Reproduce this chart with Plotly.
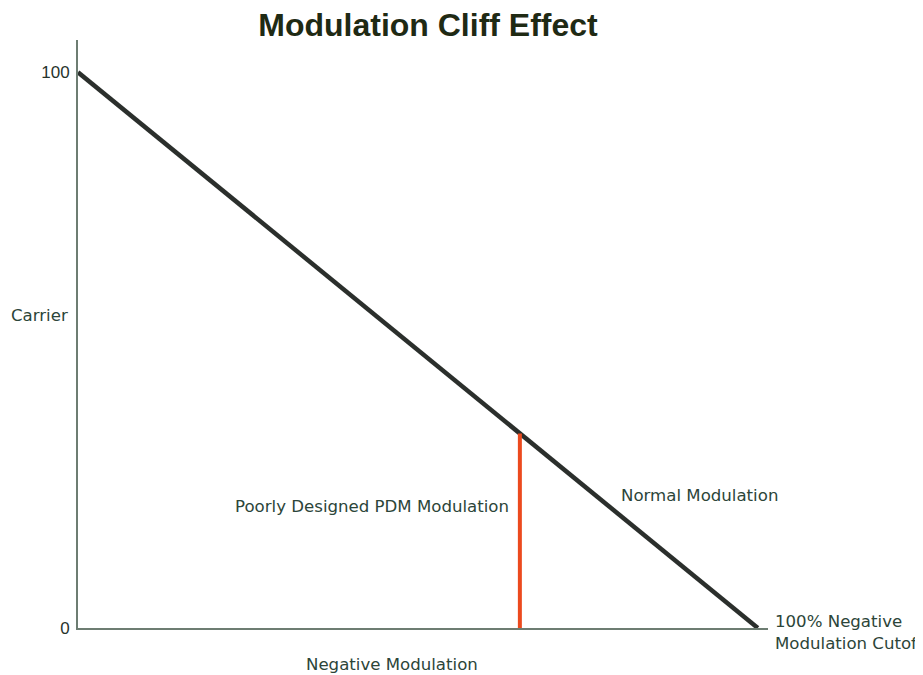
import plotly.graph_objects as go

# Data
normal_x = [0, 100]          # negative modulation (%)
normal_y = [100, 0]          # carrier (%)
pdm_x = [65, 65]
pdm_y = [0, 35]
y_tick_vals = [0, 100]
y_tick_text = ["0", "100"]

title_text = "Modulation Cliff Effect"
text_col = "#2c4539"
label_family = "DejaVu Sans, Verdana, sans-serif"
title_family = "Liberation Sans, Arial, sans-serif"

# plot area (figure px): x 70..760, y 32..620 ; page body adds 8px offset
L, R, T, B = 70, 163, 32, 55
PW, PH = 923 - L - R, 675 - T - B


def px(X):  # window px -> paper x
    return (X - 8 - L) / PW


def py(Y):  # window px -> paper y
    return (675 - B + 8 - Y) / PH


fig = go.Figure()
fig.add_trace(go.Scatter(x=normal_x, y=normal_y, mode="lines",
                         line=dict(color="#2b2f2c", width=4.5),
                         hoverinfo="skip", showlegend=False))
fig.add_trace(go.Scatter(x=pdm_x, y=pdm_y, mode="lines",
                         line=dict(color="#ec4a1e", width=4),
                         hoverinfo="skip", showlegend=False))

fig.update_layout(
    width=923, height=675,
    margin=dict(l=L, r=R, t=T, b=B),
    paper_bgcolor="white", plot_bgcolor="white",
    title=dict(text="<b>" + title_text + "</b>", x=(428 - 8) / 923, xanchor="center",
               y=1 - (25 - 8) / 675, yanchor="middle",
               font=dict(family=title_family, size=32, color="#1f2a14")),
    xaxis=dict(range=[0, 101.5], showgrid=False, zeroline=False,
               showline=True, linecolor="#6d7d72", linewidth=2,
               showticklabels=False, ticks=""),
    yaxis=dict(range=[0, 105.8], showgrid=False, zeroline=False,
               showline=True, linecolor="#6d7d72", linewidth=2,
               tickvals=y_tick_vals, ticktext=y_tick_text,
               ticks="outside", ticklen=3, tickcolor="rgba(0,0,0,0)",
               tickfont=dict(family="Liberation Sans, Arial, sans-serif",
                             size=17, color="#27332c")),
    font=dict(family=label_family, color=text_col),
)

ann_font = dict(family=label_family, size=16.6, color=text_col)
fig.add_annotation(x=px(511), y=py(507), xref="paper", yref="paper",
                   text="Poorly Designed PDM Modulation",
                   showarrow=False, xanchor="right", yanchor="middle", font=ann_font)
fig.add_annotation(x=px(619), y=py(495), xref="paper", yref="paper",
                   text="Normal Modulation",
                   showarrow=False, xanchor="left", yanchor="middle", font=ann_font)
fig.add_annotation(x=px(773), y=py(632), xref="paper", yref="paper",
                   text="100% Negative<br>Modulation Cutoff",
                   showarrow=False, xanchor="left", yanchor="middle", align="left",
                   font=ann_font)
fig.add_annotation(x=px(392), y=py(664), xref="paper", yref="paper",
                   text="Negative Modulation",
                   showarrow=False, xanchor="center", yanchor="middle", font=ann_font)
fig.add_annotation(x=px(70), y=py(315), xref="paper", yref="paper", text="Carrier",
                   showarrow=False, xanchor="right", yanchor="middle", font=ann_font)

fig.write_html("out.html")
